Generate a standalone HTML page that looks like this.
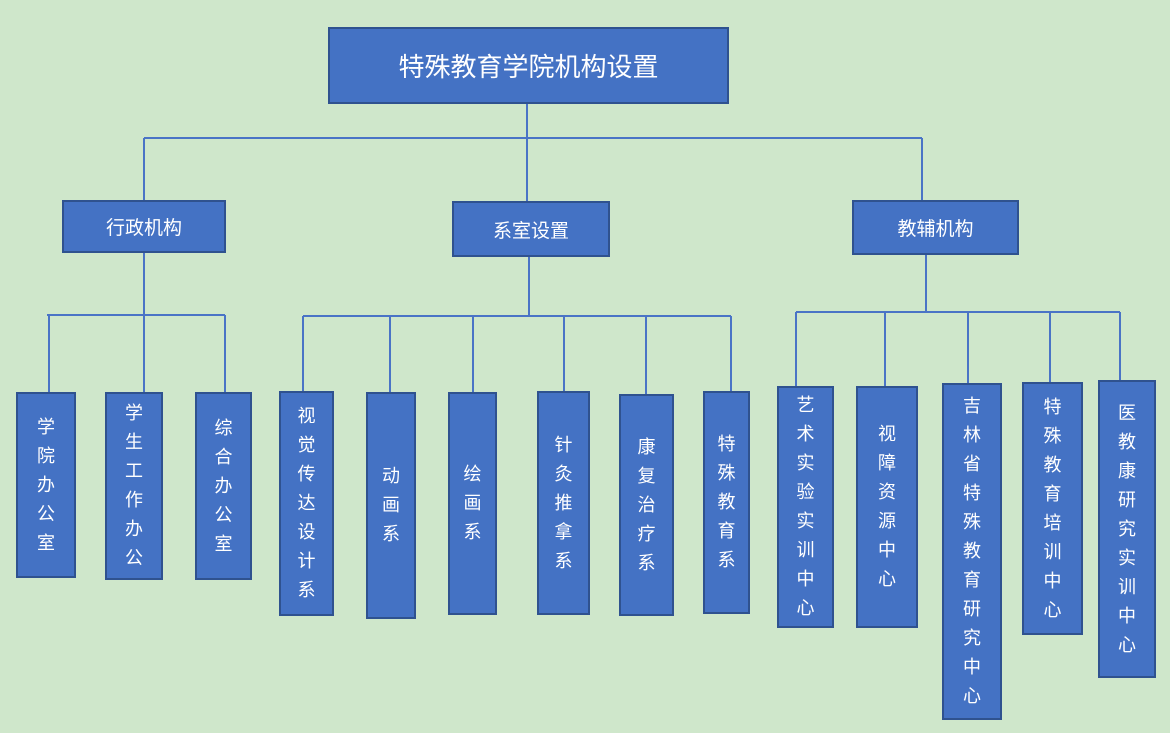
<!DOCTYPE html>
<html><head><meta charset="utf-8"><style>
body{margin:0;width:1170px;height:733px;background:#cfe7cb;position:relative;overflow:hidden;font-family:"Liberation Sans","Noto Sans CJK SC",sans-serif;}
.b{position:absolute;box-sizing:border-box;background:#4472c4;border:2px solid #2f528f;color:#fff;display:flex;align-items:center;justify-content:center;}
.v{flex-direction:column;font-size:18px;line-height:29px;}
.v span{display:block;text-align:center}
svg{position:absolute;left:0;top:0}
</style></head><body>
<svg width="1170" height="733"><g stroke="#4a74c6" stroke-width="2" fill="none">
<path d="M527 104V138M144 138H922M144 138V200M527 138V201M922 138V200"/>
<path d="M144 253V392M47 315H225M49 315V392M225 315V392"/>
<path d="M529 257V316M303 316H731M303 316V391M390 316V392M473 316V392M564 316V391M646 316V394M731 316V391"/>
<path d="M926 255V312M796 312H1120M796 312V386M885 312V386M968 312V383M1050 312V382M1120 312V380"/>
</g></svg>
<div class="b" style="left:328px;top:27px;width:401px;height:77px;font-size:26px">特殊教育学院机构设置</div>
<div class="b" style="left:62px;top:200px;width:164px;height:53px;font-size:19px">行政机构</div>
<div class="b" style="left:452px;top:201px;width:158px;height:56px;font-size:19px">系室设置</div>
<div class="b" style="left:852px;top:200px;width:167px;height:55px;font-size:19px">教辅机构</div>
<div class="b v" style="left:16px;top:392px;width:60px;height:186px"><span>学</span><span>院</span><span>办</span><span>公</span><span>室</span></div>
<div class="b v" style="left:105px;top:392px;width:58px;height:188px"><span>学</span><span>生</span><span>工</span><span>作</span><span>办</span><span>公</span></div>
<div class="b v" style="left:195px;top:392px;width:57px;height:188px"><span>综</span><span>合</span><span>办</span><span>公</span><span>室</span></div>
<div class="b v" style="left:279px;top:391px;width:55px;height:225px"><span>视</span><span>觉</span><span>传</span><span>达</span><span>设</span><span>计</span><span>系</span></div>
<div class="b v" style="left:366px;top:392px;width:50px;height:227px"><span>动</span><span>画</span><span>系</span></div>
<div class="b v" style="left:448px;top:392px;width:49px;height:223px"><span>绘</span><span>画</span><span>系</span></div>
<div class="b v" style="left:537px;top:391px;width:53px;height:224px"><span>针</span><span>灸</span><span>推</span><span>拿</span><span>系</span></div>
<div class="b v" style="left:619px;top:394px;width:55px;height:222px"><span>康</span><span>复</span><span>治</span><span>疗</span><span>系</span></div>
<div class="b v" style="left:703px;top:391px;width:47px;height:223px"><span>特</span><span>殊</span><span>教</span><span>育</span><span>系</span></div>
<div class="b v" style="left:777px;top:386px;width:57px;height:242px"><span>艺</span><span>术</span><span>实</span><span>验</span><span>实</span><span>训</span><span>中</span><span>心</span></div>
<div class="b v" style="left:856px;top:386px;width:62px;height:242px"><span>视</span><span>障</span><span>资</span><span>源</span><span>中</span><span>心</span></div>
<div class="b v" style="left:942px;top:383px;width:60px;height:337px"><span>吉</span><span>林</span><span>省</span><span>特</span><span>殊</span><span>教</span><span>育</span><span>研</span><span>究</span><span>中</span><span>心</span></div>
<div class="b v" style="left:1022px;top:382px;width:61px;height:253px"><span>特</span><span>殊</span><span>教</span><span>育</span><span>培</span><span>训</span><span>中</span><span>心</span></div>
<div class="b v" style="left:1098px;top:380px;width:58px;height:298px"><span>医</span><span>教</span><span>康</span><span>研</span><span>究</span><span>实</span><span>训</span><span>中</span><span>心</span></div>
</body></html>
